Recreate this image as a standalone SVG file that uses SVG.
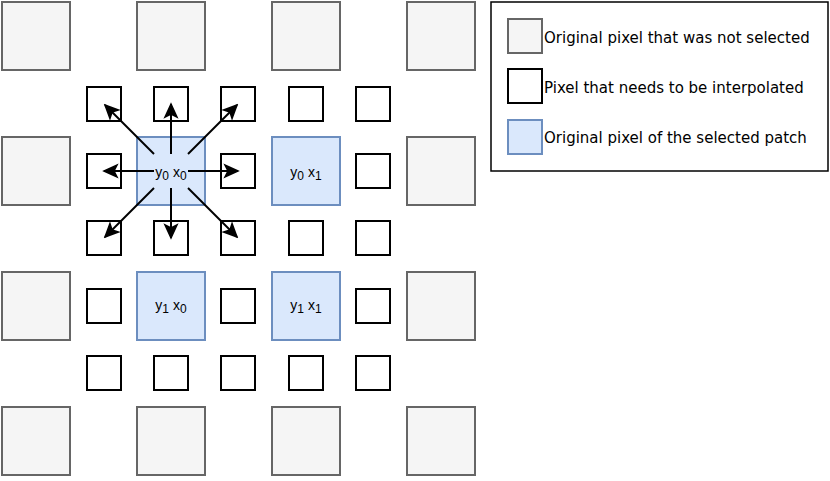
<svg xmlns="http://www.w3.org/2000/svg" width="830" height="481" viewBox="0 0 830 481">
<style>
.g{fill:#f5f5f5;stroke:#666666;stroke-width:2}
.s{fill:#ffffff;stroke:#000000;stroke-width:2}
.b{fill:#dae8fc;stroke:#6c8ebf;stroke-width:2}
.lbl{font-family:"Liberation Sans",Arial,sans-serif;font-size:14px;fill:#000}
.sub{font-size:12px}
.leg{font-family:"DejaVu Sans",Verdana,sans-serif;font-size:15px;fill:#000}
.arr{stroke:#000;stroke-width:2;fill:none;marker-end:url(#ah)}
</style>
<defs>
<marker id="ah" markerUnits="userSpaceOnUse" viewBox="-15 -8 17 16" refX="0" refY="0" markerWidth="17" markerHeight="16" orient="auto">
<path d="M0,0 L-13,-6 L-10,0 L-13,6 Z" fill="#000" stroke="#000" stroke-width="1.5" stroke-linejoin="miter"/>
</marker>
</defs>
<rect width="830" height="481" fill="#ffffff"/>
<g id="orig">
<rect class="g" x="2" y="2" width="68" height="68"/>
<rect class="g" x="137" y="2" width="68" height="68"/>
<rect class="g" x="272" y="2" width="68" height="68"/>
<rect class="g" x="407" y="2" width="68" height="68"/>
<rect class="g" x="2" y="137" width="68" height="68"/>
<rect class="g" x="407" y="137" width="68" height="68"/>
<rect class="g" x="2" y="272" width="68" height="68"/>
<rect class="g" x="407" y="272" width="68" height="68"/>
<rect class="g" x="2" y="407" width="68" height="68"/>
<rect class="g" x="137" y="407" width="68" height="68"/>
<rect class="g" x="272" y="407" width="68" height="68"/>
<rect class="g" x="407" y="407" width="68" height="68"/>
</g>
<g id="interp">
<rect class="s" x="87" y="87" width="34" height="34"/>
<rect class="s" x="154" y="87" width="34" height="34"/>
<rect class="s" x="221" y="87" width="34" height="34"/>
<rect class="s" x="289" y="87" width="34" height="34"/>
<rect class="s" x="356" y="87" width="34" height="34"/>
<rect class="s" x="87" y="154" width="34" height="34"/>
<rect class="s" x="221" y="154" width="34" height="34"/>
<rect class="s" x="356" y="154" width="34" height="34"/>
<rect class="s" x="87" y="221" width="34" height="34"/>
<rect class="s" x="154" y="221" width="34" height="34"/>
<rect class="s" x="221" y="221" width="34" height="34"/>
<rect class="s" x="289" y="221" width="34" height="34"/>
<rect class="s" x="356" y="221" width="34" height="34"/>
<rect class="s" x="87" y="289" width="34" height="34"/>
<rect class="s" x="221" y="289" width="34" height="34"/>
<rect class="s" x="356" y="289" width="34" height="34"/>
<rect class="s" x="87" y="356" width="34" height="34"/>
<rect class="s" x="154" y="356" width="34" height="34"/>
<rect class="s" x="221" y="356" width="34" height="34"/>
<rect class="s" x="289" y="356" width="34" height="34"/>
<rect class="s" x="356" y="356" width="34" height="34"/>
</g>
<g id="y0x0"><rect class="b" x="137" y="137" width="68" height="68"/></g>
<g id="y0x1"><rect class="b" x="272" y="137" width="68" height="68"/>
<text class="lbl" x="306" y="177" text-anchor="middle">y<tspan class="sub" dy="3">0</tspan><tspan dy="-3"> x</tspan><tspan class="sub" dy="3">1</tspan></text></g>
<g id="y1x0"><rect class="b" x="137" y="272" width="68" height="68"/>
<text class="lbl" x="171" y="310" text-anchor="middle">y<tspan class="sub" dy="3">1</tspan><tspan dy="-3"> x</tspan><tspan class="sub" dy="3">0</tspan></text></g>
<g id="y1x1"><rect class="b" x="272" y="272" width="68" height="68"/>
<text class="lbl" x="306" y="310" text-anchor="middle">y<tspan class="sub" dy="3">1</tspan><tspan dy="-3"> x</tspan><tspan class="sub" dy="3">1</tspan></text></g>
<g id="connectors">
<line class="arr" x1="171" y1="154" x2="171" y2="104"/>
<line class="arr" x1="171" y1="188" x2="171" y2="238"/>
<line class="arr" x1="154" y1="171" x2="104" y2="171"/>
<line class="arr" x1="188" y1="171" x2="238" y2="171"/>
<line class="arr" x1="154" y1="154" x2="105" y2="105"/>
<line class="arr" x1="188" y1="154" x2="237" y2="105"/>
<line class="arr" x1="154" y1="188" x2="105" y2="237"/>
<line class="arr" x1="188" y1="188" x2="237" y2="237"/>
</g>
<g id="y0x0label">
<text class="lbl" x="171" y="177" text-anchor="middle">y<tspan class="sub" dy="3">0</tspan><tspan dy="-3"> x</tspan><tspan class="sub" dy="3">0</tspan></text>
</g>
<g id="legend">
<rect x="491" y="2" width="337" height="169" fill="#ffffff" stroke="#000" stroke-width="1.5"/>
<rect class="g" x="508" y="19" width="34" height="34"/>
<rect class="s" x="508" y="69" width="34" height="34"/>
<rect class="b" x="508" y="120" width="34" height="34"/>
<text class="leg" x="544" y="43">Original pixel that was not selected</text>
<text class="leg" x="544" y="93">Pixel that needs to be interpolated</text>
<text class="leg" x="544" y="143">Original pixel of the selected patch</text>
</g>
</svg>
